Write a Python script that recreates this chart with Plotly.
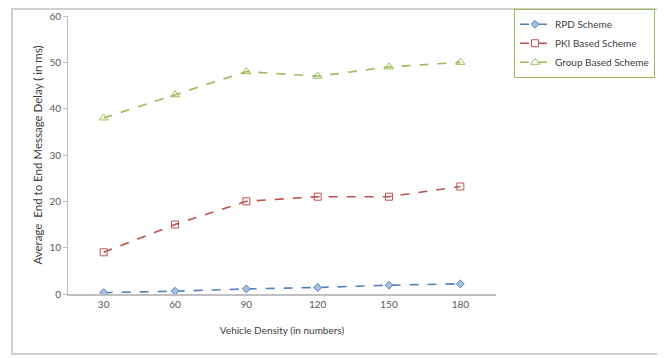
import plotly.graph_objects as go

categories = ["30", "60", "90", "120", "150", "180"]
rpd = [0.3, 0.6, 1.1, 1.4, 1.9, 2.2]
pki = [9, 15, 20, 21, 21, 23.2]
group = [38, 43, 48, 47, 49, 50]
y_ticks = [0, 10, 20, 30, 40, 50, 60]

FONT = "Lato"
fig = go.Figure()
series = [
    ("RPD Scheme", rpd, "#4f81bd", "diamond", "#a7c0de", 6),
    ("PKI Based Scheme", pki, "#c0504d", "square-open", None, 7),
    ("Group Based Scheme", group, "#9bbb59", "triangle-up-open", None, 8),
]
for name, vals, col, sym, fill, sz in series:
    marker = dict(symbol=sym, size=sz, color=fill if fill else col,
                  line=dict(color=col, width=1))
    fig.add_trace(go.Scatter(
        x=categories, y=vals, name=name, mode="lines+markers",
        line=dict(color=col, width=1.6, dash="dash"),
        marker=marker,
    ))

# page body has an 8px default margin, so the figure is 8px smaller each way
fig.update_layout(
    width=657, height=350,
    margin=dict(l=60, r=169, t=8, b=64, autoexpand=False),
    paper_bgcolor="white", plot_bgcolor="white",
    font=dict(family=FONT, size=10, color="#404040"),
    showlegend=True,
    legend=dict(
        x=1.042, y=1.026, xanchor="left", yanchor="top",
        bordercolor="#9bbb59", borderwidth=1,
        font=dict(family=FONT, size=10, color="#404040"),
        itemwidth=30, tracegroupgap=2,
        bgcolor="white",
    ),
    xaxis=dict(
        type="category", range=[-0.5, 5.5],
        showgrid=False, zeroline=False, automargin=False,
        showline=True, linecolor="#bfbfbf", linewidth=2,
        ticks="", tickfont=dict(family=FONT, size=10, color="#595959"),
        title=dict(text="Vehicle Density (in numbers)",
                   font=dict(family=FONT, size=10, color="#404040"), standoff=18),
    ),
    yaxis=dict(
        range=[0, 60], tickvals=y_ticks,
        showgrid=False, zeroline=False, automargin=False,
        showline=True, linecolor="#bfbfbf", linewidth=1,
        ticks="outside", ticklen=4, tickcolor="#bfbfbf",
        tickfont=dict(family=FONT, size=10, color="#595959"),
        title=dict(text="Average  End to End Message Delay ( in ms)",
                   font=dict(family=FONT, size=11.5, color="#404040"), standoff=4),
    ),
    shapes=[dict(
        type="rect", xref="paper", yref="paper",
        x0=-0.1308, x1=1.3785, y0=-0.2158, y1=1.025,
        line=dict(color="#d0d0d0", width=2), fillcolor="rgba(0,0,0,0)",
        layer="below",
    )],
)

fig.write_html("out.html")
